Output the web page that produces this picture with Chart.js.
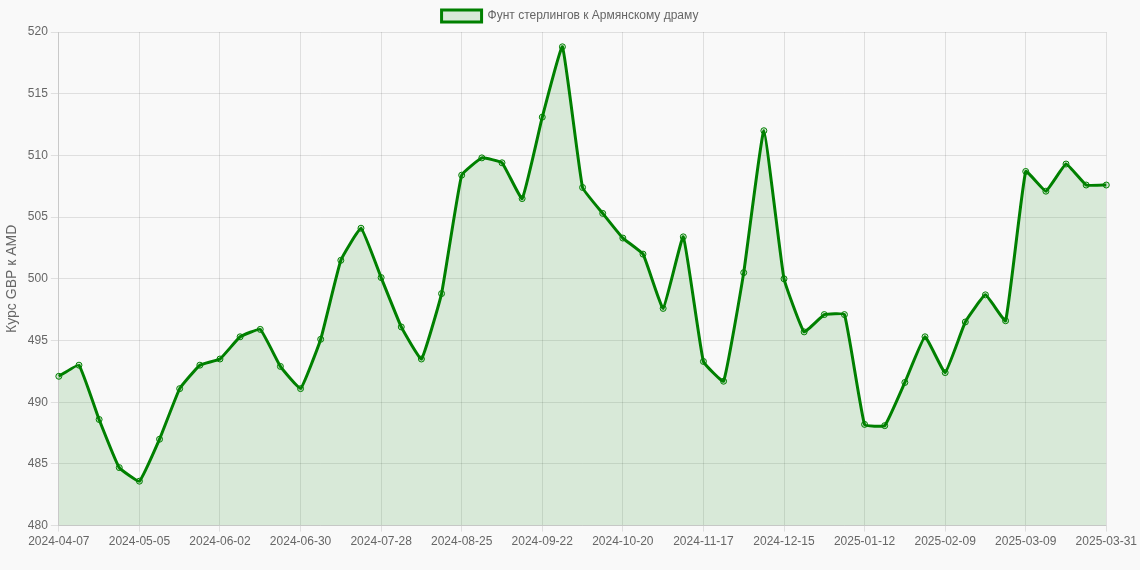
<!DOCTYPE html>
<html><head><meta charset="utf-8">
<script src="https://cdn.jsdelivr.net/npm/chart.js@4"></script>
<style>body{margin:0;background:#f9f9f9}#w{width:1140px;height:570px}</style>
</head><body><div id="w"><canvas id="c"></canvas></div>
<script>
const seriesLabel = "Фунт стерлингов к Армянскому драму";
const yTitle = "Курс GBP к AMD";
const values = [492.1,493.0,488.6,484.7,483.6,487.0,491.1,493.0,493.5,495.3,495.9,492.9,491.1,495.1,501.5,504.1,500.1,496.1,493.5,498.8,508.4,509.8,509.4,506.5,513.1,518.8,507.4,505.3,503.3,502.0,497.6,503.4,493.3,491.7,500.5,512.0,500.0,495.7,497.1,497.1,488.2,488.1,491.6,495.3,492.4,496.5,498.7,496.6,508.7,507.1,509.3,507.6,507.6];
const labels = [];
{ let d = new Date(Date.UTC(2024,3,7)); for (let i=0;i<52;i++){ labels.push(d.toISOString().slice(0,10)); d.setUTCDate(d.getUTCDate()+7);} labels.push("2025-03-31"); }
Chart.defaults.font.family = "Arial, 'Liberation Sans', sans-serif";
Chart.defaults.color = "#666";
new Chart(document.getElementById('c'), {
  type:'line',
  data:{labels, datasets:[{label:seriesLabel, data:values, borderColor:'green', backgroundColor:'rgba(0,128,0,0.13)', fill:true, borderWidth:3, tension:0.1, pointRadius:3, pointBorderWidth:1, pointBackgroundColor:'rgba(0,128,0,0.15)', pointBorderColor:'green'}]},
  options:{responsive:true, maintainAspectRatio:false, animation:false,
    layout:{padding:{bottom:18}},
    plugins:{legend:{labels:{font:{size:12}}}},
    scales:{
      x:{grid:{color:(c)=> (c.index%4===0 ? 'rgba(0,0,0,0.1)' : 'rgba(0,0,0,0)'), tickLength:6}, ticks:{autoSkip:false, maxRotation:0, font:{size:12}, callback:function(v,i){return i%4===0?labels[i]:'';}}},
      y:{min:480,max:520, ticks:{stepSize:5, font:{size:12}}, grid:{color:'rgba(0,0,0,0.1)'}, title:{display:true,text:yTitle,font:{size:14}}}
    }}
});
</script></body></html>
